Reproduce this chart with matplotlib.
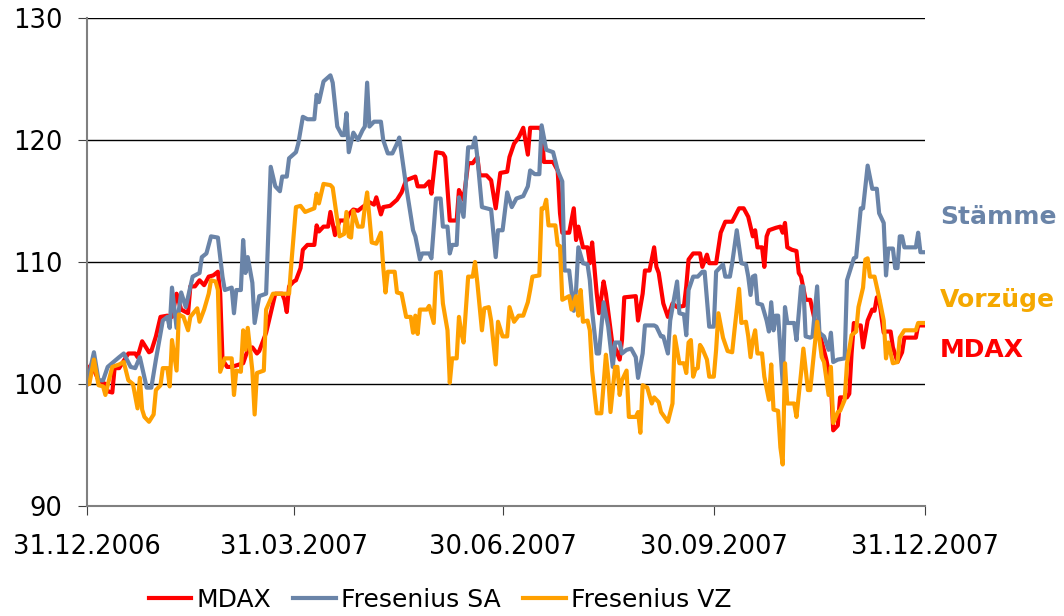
import numpy as np
import matplotlib
matplotlib.use("Agg")
import matplotlib.pyplot as plt
import matplotlib.dates as mdates
import matplotlib.transforms as mtransforms

plt.rcParams['font.family'] = ['DejaVu Sans']

start_date = np.datetime64('2006-12-31')

# Fresenius SA (Stämme): day offset from 31.12.2006, index value
sa_days = [0, 3, 5, 7, 9, 14, 16, 19, 21, 23, 26, 28, 30, 33, 35, 36, 37, 39, 41, 43,
           46, 49, 50, 52, 54, 57, 59, 60, 63, 64, 65, 67, 68, 69, 70, 72, 73, 75, 78, 80,
           82, 84, 85, 87, 88, 91, 92, 94, 96, 99, 100, 101, 103, 106, 107, 109, 111, 112, 113, 114,
           116, 118, 120, 121, 122, 123, 125, 128, 129, 131, 133, 135, 136, 139, 142, 143, 145, 146, 149, 150,
           152, 154, 155, 157, 158, 159, 161, 162, 164, 166, 168, 169, 170, 172, 176, 178, 179, 181, 183, 185,
           187, 190, 192, 193, 195, 197, 198, 200, 203, 205, 207, 208, 210, 212, 213, 214, 216, 218, 219, 220,
           222, 223, 225, 227, 229, 230, 232, 233, 235, 237, 239, 240, 242, 243, 247, 248, 250, 251, 253, 254,
           257, 258, 260, 261, 262, 264, 266, 268, 269, 271, 273, 274, 277, 278, 280, 281, 283, 285, 287, 288,
           289, 290, 291, 292, 294, 296, 297, 298, 299, 300, 301, 303, 304, 305, 308, 309, 311, 312, 313, 315,
           316, 318, 319, 321, 323, 324, 325, 327, 330, 331, 334, 335, 337, 338, 340, 342, 344, 345, 347, 348,
           349, 351, 352, 353, 354, 355, 356, 361, 362, 363, 365]
sa_vals = [100, 102.6, 100.3, 100.3, 101.4, 102.2, 102.5, 101.4, 101.3, 102.2, 99.7, 99.7, 102, 105.2, 105.5, 104.6, 107.9, 104.6, 107.5, 106.3,
           108.8, 109.1, 110.4, 110.7, 112.1, 112, 108.8, 107.7, 107.9, 105.8, 107.7, 107.7, 111.8, 109.1, 110.4, 108.3, 105, 107.2, 107.4, 117.8,
           116.2, 115.8, 117, 117, 118.5, 119, 119.7, 121.9, 121.7, 121.7, 123.7, 123.1, 124.8, 125.3, 124.7, 121.1, 120.4, 120.4, 122.2, 119,
           120.6, 120, 120.8, 121.1, 124.7, 121.1, 121.5, 121.5, 120, 118.9, 118.9, 119.7, 120.2, 116.2, 112.6, 112.1, 110.2, 110.7, 110.7, 110.3,
           115.2, 115.2, 112.9, 112.9, 110.7, 111.4, 111.4, 115.3, 113.7, 119.4, 119.4, 120.2, 118.6, 114.5, 114.3, 110.4, 112.6, 112.6, 115.7, 114.5,
           115.2, 115.4, 116.2, 117.5, 117.2, 117.2, 121.2, 119.2, 119, 117.5, 116.6, 109.3, 109.3, 106, 107.7, 111.2, 109.9, 109.8, 108.5, 106,
           102.5, 102.5, 106.7, 104.7, 101.4, 103.4, 103.4, 102.5, 102.8, 102.9, 102.2, 100.5, 102.5, 104.8, 104.8, 104.7, 103.9, 103.9, 102.5, 105.2,
           108.4, 105.8, 105.7, 104, 107.7, 108.8, 108.8, 109.2, 109.2, 104.7, 104.7, 109.2, 109.8, 108.8, 108.8, 109.9, 112.6, 109.9, 109.8, 108.8,
           107.3, 108.8, 108.9, 106.6, 106.5, 105.2, 104.3, 106.7, 104.4, 105.6, 105.6, 100.1, 106.3, 105, 105, 103.6, 108, 108, 103.9, 103.8,
           103.9, 108, 104.2, 103.9, 102.8, 104.2, 101.8, 102, 102.1, 108.5, 110.3, 110.4, 114.4, 114.4, 117.9, 116, 116, 114, 113.2, 108.9,
           111.1, 111.1, 109.5, 109.5, 112.1, 112.1, 111.2, 111.2, 112.4, 110.8, 110.8]

# MDAX
mdax_days = [0, 1, 2, 5, 8, 9, 11, 12, 14, 18, 21, 22, 24, 25, 27, 28, 30, 32, 35, 37,
             39, 41, 44, 45, 47, 49, 51, 53, 55, 57, 58, 59, 61, 63, 68, 70, 72, 74, 75, 78,
             80, 82, 85, 86, 87, 88, 90, 91, 93, 94, 96, 99, 100, 101, 103, 105, 106, 108, 110, 113,
             114, 116, 118, 120, 123, 125, 126, 128, 129, 132, 135, 137, 139, 143, 144, 147, 149, 150, 152, 155,
             156, 158, 161, 162, 164, 166, 168, 170, 171, 174, 176, 178, 180, 183, 184, 186, 188, 190, 192, 193,
             197, 198, 199, 203, 205, 206, 207, 210, 212, 213, 214, 216, 218, 219, 220, 222, 223, 225, 226, 229,
             230, 232, 233, 234, 239, 240, 242, 243, 245, 247, 248, 249, 251, 253, 255, 257, 260, 261, 262, 264,
             267, 268, 270, 271, 274, 276, 278, 281, 284, 286, 288, 290, 291, 292, 294, 295, 296, 297, 300, 302,
             303, 304, 305, 307, 309, 310, 311, 313, 315, 317, 319, 322, 324, 325, 327, 328, 331, 332, 333, 334,
             335, 337, 338, 340, 342, 343, 344, 345, 347, 348, 350, 351, 353, 355, 356, 361, 362, 365]
mdax_vals = [100, 101.4, 101.6, 100.3, 100, 99.4, 99.3, 101.3, 101.3, 102.5, 102.5, 102.2, 103.5, 103.2, 102.6, 102.7, 103.9, 105.5, 105.6, 105.5,
             107.4, 106.1, 105.8, 108, 108, 108.5, 108.1, 108.8, 108.9, 109.2, 107.4, 102, 101.4, 101.4, 101.7, 102.8, 103, 102.5, 102.7, 104.2,
             105.8, 107.4, 107.4, 106.9, 105.9, 108, 108.4, 108.5, 109.5, 111, 111.4, 111.4, 113, 112.5, 112.9, 112.9, 114.1, 112.2, 113.4, 113.4,
             113.9, 114.3, 114.2, 114.5, 114.9, 114.7, 115.3, 113.9, 114.5, 114.6, 115.1, 115.7, 116.7, 117, 116.2, 116.2, 116.6, 115.6, 119, 118.9,
             118.6, 113.4, 113.4, 115.9, 115.1, 118.1, 118.1, 118.6, 117.1, 117.1, 116.7, 114.4, 117.3, 117.4, 118.6, 119.7, 120.2, 121, 118.8, 121,
             121, 120.8, 118.2, 118.2, 117.5, 114, 112.4, 112.4, 114.4, 111.8, 112.9, 111.2, 111.2, 109.9, 111.6, 107.4, 105.8, 108.4, 107.4, 103,
             103, 102, 103.6, 107.1, 107.2, 105.2, 107.4, 109.3, 109.3, 111.2, 109.6, 109.1, 106.6, 105.5, 106.6, 106.3, 106.4, 108, 110.2, 110.7,
             110.7, 109.6, 110.6, 109.9, 109.9, 112.4, 113.3, 113.3, 114.4, 114.4, 113.7, 112.1, 112.6, 111.2, 111.2, 109.6, 112.1, 112.6, 112.8, 112.9,
             112.4, 113.2, 111.2, 111, 110.9, 109.1, 108.8, 106.9, 106.9, 105.2, 104.2, 102, 100.1, 96.2, 96.6, 98.9, 98.9, 99.2, 102.5, 105,
             104.8, 104.8, 103, 105.2, 106.1, 106, 107.1, 106.9, 104.2, 104.3, 104.3, 103, 101.8, 102.6, 103.8, 103.8, 104.8, 104.8]

# Fresenius VZ (Vorzüge)
vz_days = [0, 1, 3, 5, 7, 8, 9, 11, 14, 16, 18, 20, 22, 23, 24, 25, 27, 29, 30, 32,
           33, 35, 36, 37, 39, 40, 42, 44, 45, 48, 49, 51, 53, 54, 56, 57, 58, 60, 63, 64,
           65, 67, 68, 69, 70, 72, 73, 74, 77, 78, 81, 84, 88, 89, 91, 93, 95, 99, 100, 101,
           103, 106, 107, 109, 110, 112, 113, 114, 115, 116, 118, 120, 121, 122, 124, 126, 128, 129, 130, 131,
           134, 135, 137, 139, 141, 142, 143, 144, 145, 148, 149, 151, 152, 154, 155, 157, 158, 159, 161, 162,
           163, 164, 166, 168, 169, 170, 172, 173, 175, 176, 178, 179, 181, 183, 184, 186, 188, 190, 192, 193,
           194, 197, 198, 199, 200, 201, 204, 205, 206, 207, 210, 211, 213, 214, 215, 216, 218, 219, 220, 222,
           224, 226, 227, 228, 230, 231, 232, 233, 235, 236, 239, 240, 241, 242, 244, 246, 247, 249, 250, 253,
           255, 256, 258, 260, 261, 262, 263, 264, 265, 266, 267, 268, 270, 271, 273, 274, 275, 277, 279, 281,
           282, 284, 285, 287, 288, 289, 290, 291, 292, 294, 295, 297, 298, 299, 301, 302, 303, 304, 305, 308,
           309, 311, 312, 314, 315, 316, 318, 320, 321, 323, 324, 325, 327, 328, 330, 331, 333, 335, 336, 338,
           339, 340, 341, 343, 345, 347, 348, 349, 351, 353, 354, 356, 361, 362, 365]
vz_vals = [100, 100, 102, 99.9, 99.8, 99.1, 99.9, 101.4, 101.6, 101.8, 100.3, 100, 98, 100.5, 97.9, 97.3, 96.9, 97.5, 99.5, 99.9,
           101.3, 101.3, 99.8, 103.6, 101.1, 105.7, 105.5, 104.4, 105.5, 106.2, 105.1, 106.1, 107.4, 108.5, 108.4, 107.7, 101, 102.1, 102.1, 99.1,
           101.1, 101, 104.4, 102.8, 104.6, 101.1, 97.5, 100.9, 101.1, 106.1, 107.4, 107.4, 107.4, 109.9, 114.5, 114.6, 114.1, 114.4, 115.6, 114.8,
           116.4, 116.3, 116.1, 113.4, 112.1, 112.3, 114.1, 112.1, 112, 114.2, 112.9, 112.9, 114.5, 115.7, 111.6, 111.5, 112.4, 109.6, 107.5, 109.2,
           109.2, 107.5, 107.4, 105.5, 105.5, 104.2, 105.6, 104.1, 106.1, 106.1, 106.4, 105, 109.1, 109.2, 106.6, 104.4, 100.1, 102.1, 102.1, 105.5,
           104.2, 103.4, 108.8, 108.8, 110, 108.3, 104.4, 106.2, 106.3, 105.2, 101.6, 105.1, 103.9, 103.9, 106.3, 105.1, 105.6, 105.6, 106.7, 107.7,
           108.8, 108.9, 114.4, 114.4, 115.1, 113, 113, 111.4, 111.3, 106.9, 107.2, 106.1, 107.2, 105.6, 107.7, 105.1, 105.2, 104.4, 101.1, 97.6,
           97.6, 102.4, 100.6, 97.7, 101.4, 101.4, 99.1, 100.3, 101.1, 97.3, 97.3, 97.7, 96, 99.9, 99.7, 98.4, 98.9, 98.5, 97.7, 96.9,
           98.4, 103.9, 101.7, 101.7, 100.9, 103.4, 103.6, 100.6, 101.2, 101.3, 103.2, 102.9, 102, 100.6, 100.6, 102.8, 105.8, 103.8, 102.7, 102.6,
           104.4, 107.8, 105, 105.1, 103.9, 102.2, 103.6, 104.4, 102.5, 102.5, 100.6, 98.7, 101.6, 97.9, 97.8, 94.8, 93.4, 101.7, 98.4, 98.4,
           97.3, 100.9, 102.9, 99.5, 99.5, 101.4, 105.1, 102.2, 101.8, 99.1, 101.4, 96.8, 97.7, 97.8, 98.7, 101.7, 104, 104.3, 106.3, 107.9,
           110.2, 110.3, 108.8, 108.8, 107.1, 105.2, 102.1, 103.4, 101.7, 101.8, 103.8, 104.4, 104.4, 105, 105]

tick_dates = ['2006-12-31', '2007-03-31', '2007-06-30', '2007-09-30', '2007-12-31']

col_mdax = '#FF0000'
col_sa = '#6A84A8'
col_vz = '#FFA000'


def to_dates(days):
    return start_date + np.array(days).astype('timedelta64[D]')


fig = plt.figure(figsize=(10.64, 6.16), dpi=100)
ax = fig.add_axes([0.0818, 0.1786, 0.7876, 0.7922])

ax.plot(to_dates(mdax_days), mdax_vals, color=col_mdax, lw=3, label='MDAX')
ax.plot(to_dates(sa_days), sa_vals, color=col_sa, lw=3, label='Fresenius SA')
ax.plot(to_dates(vz_days), vz_vals, color=col_vz, lw=3, label='Fresenius VZ')

ax.set_ylim(90, 130)
ax.set_yticks([90, 100, 110, 120, 130])
ax.set_xlim(np.datetime64('2006-12-31'), np.datetime64('2007-12-31'))
ax.set_xticks(np.array(tick_dates, dtype='datetime64[D]'))
ax.xaxis.set_major_formatter(mdates.DateFormatter('%d.%m.%Y'))

ax.grid(axis='y', color='black', lw=1)
ax.set_axisbelow(True)
for s in ['top', 'right']:
    ax.spines[s].set_visible(False)
for s in ['left', 'bottom']:
    ax.spines[s].set_color('#808080')
    ax.spines[s].set_linewidth(1.5)
ax.tick_params(axis='both', labelsize=18.5, length=6.5, color='#404040')
ax.tick_params(axis='y', pad=11)
ax.tick_params(axis='x', pad=14)

# labels at right edge
trans = mtransforms.blended_transform_factory(ax.transAxes, ax.transData)
ax.text(1.018, 113.7, 'Stämme', color=col_sa, fontsize=18, fontweight='bold',
        transform=trans, va='center', ha='left', clip_on=False)
ax.text(1.018, 106.9, 'Vorzüge', color='#F5A800', fontsize=18, fontweight='bold',
        transform=trans, va='center', ha='left', clip_on=False)
ax.text(1.018, 102.8, 'MDAX', color=col_mdax, fontsize=18, fontweight='bold',
        transform=trans, va='center', ha='left', clip_on=False)

leg = fig.legend(loc='center', bbox_to_anchor=(0.4135, 0.026), ncol=3, frameon=False,
                 fontsize=18, handlelength=1.7, handletextpad=0.2, columnspacing=0.9,
                 borderpad=0.1)

fig.savefig('out.png', dpi=100)
